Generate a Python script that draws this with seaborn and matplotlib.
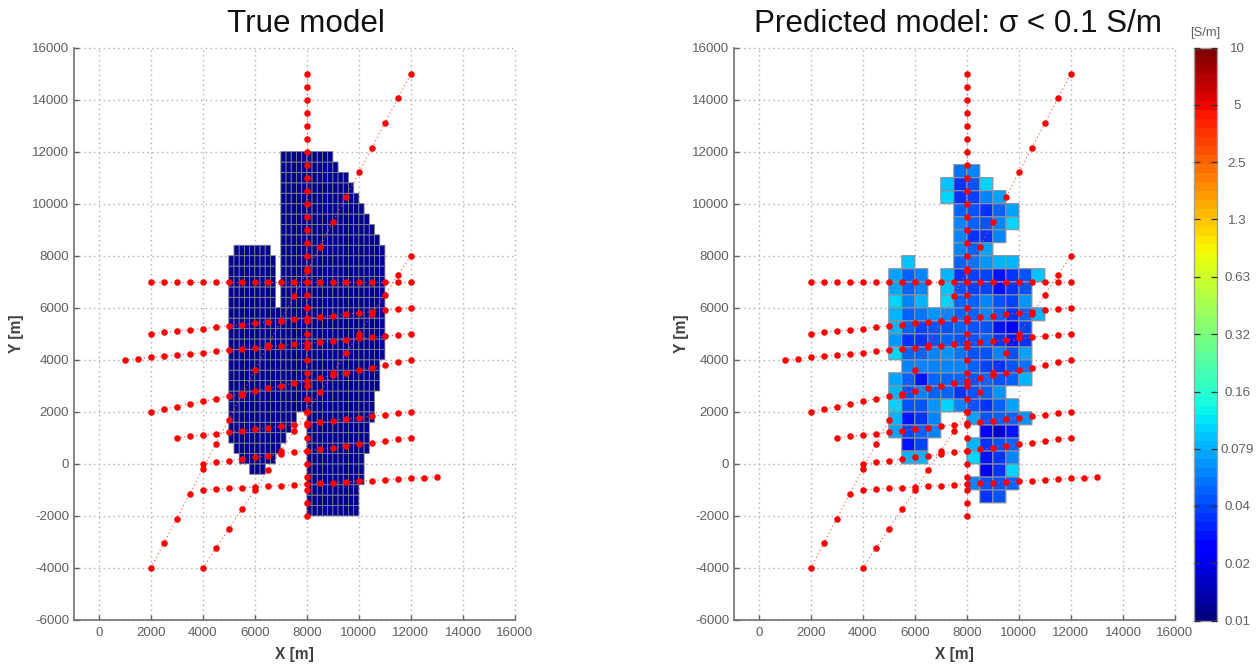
import numpy as np
import pandas as pd
import matplotlib
matplotlib.use("Agg")
import matplotlib.pyplot as plt
from matplotlib.colors import LogNorm
import seaborn as sns

# ---------- data ----------
# survey stations (m)
line_a_x = [2000,2500,3000,3500,4000,4500,5000,5500,6000,6500,7000,7500,8000,8500,9000,9500,10000,10500,11000,11500,12000]
line_a_y = [7000]*21
line_b_x = line_a_x
line_b_y = [5000,5050,5100,5150,5200,5250,5300,5350,5400,5450,5500,5550,5600,5650,5700,5750,5800,5850,5900,5950,6000]
line_c_x = [1000,1500] + line_a_x
line_c_y = [4000,4045,4090,4135,4180,4225,4270,4320,4365,4410,4455,4500,4545,4590,4635,4680,4725,4770,4820,4865,4910,4955,5000]
line_d_x = line_a_x
line_d_y = [2000,2100,2200,2300,2400,2500,2600,2700,2800,2900,3000,3100,3200,3300,3400,3500,3600,3700,3800,3900,4000]
line_e_x = line_a_x[2:]
line_e_y = [1000,1055,1110,1165,1220,1280,1335,1390,1445,1500,1555,1610,1665,1720,1780,1835,1890,1945,2000]
line_f_x = line_a_x[4:]
line_f_y = [0,60,125,190,250,310,375,440,500,560,625,690,750,810,875,940,1000]
line_g_x = line_a_x[4:] + [12500,13000]
line_g_y = [-1000,-970,-945,-915,-890,-860,-835,-805,-780,-750,-720,-695,-665,-640,-610,-585,-555,-530,-500]
line_v_x = [8000]*35
line_v_y = [15000,14500,14000,13500,13000,12500,12000,11500,11000,10500,10000,9500,9000,8500,8000,7500,7000,6500,6000,5500,5000,4500,4000,3500,3000,2500,2000,1500,1000,500,0,-500,-1000,-1500,-2000]
diag_1_x = line_a_x
diag_1_y = [-4000,-3050,-2100,-1150,-200,750,1700,2650,3600,4550,5500,6450,7400,8350,9300,10250,11200,12150,13100,14050,15000]
diag_2_x = line_a_x[4:]
diag_2_y = [-4000,-3250,-2500,-1750,-1000,-250,500,1250,2000,2750,3500,4250,5000,5750,6500,7250,8000]
profiles = [(line_a_x,line_a_y),(line_b_x,line_b_y),(line_c_x,line_c_y),(line_d_x,line_d_y),
            (line_e_x,line_e_y),(line_f_x,line_f_y),(line_g_x,line_g_y),(line_v_x,line_v_y),
            (diag_1_x,diag_1_y),(diag_2_x,diag_2_y)]

# true model: blocks of cells (200 m x 400 m), conductivity in S/m
true_sigma = 0.0115
true_y_top = [12000,11600,11200,10800,10400,10000,9600,9200,8800,8400,8400,8000,8000,6000,4000,2800,2000,2000,1600,1600,1200,1200,800,800,400,400,0,-800]
true_y_bot = [11600,11200,10800,10400,10000,9600,9200,8800,8400,8000,8000,6000,6000,4000,2800,2000,1600,1600,1200,1200,800,800,400,400,0,-800,-400,-2000]
true_x_lft = [7000,7000,7000,7000,7000,7000,7000,7000,7000,7000,5200,5000,7000,5000,5000,5000,5000,8000,5000,8000,5000,8000,5200,8000,5400,8000,5800,8000]
true_x_rgt = [9000,9200,9600,9800,10000,10200,10400,10600,10800,11000,6600,6800,11000,11000,10800,10600,7600,10600,7400,10400,7200,10400,7000,10400,6800,10200,6400,10000]

# predicted model: 500 m cells, conductivity in S/m
_ = np.nan
pred_x = [5000,5500,6000,6500,7000,7500,8000,8500,9000,9500,10000,10500]
pred_y = [11000,10500,10000,9500,9000,8500,8000,7500,7000,6500,6000,5500,5000,4500,4000,3500,3000,2500,2000,1500,1000,500,0,-500,-1000,-1500]
pred_sigma = [
 [_,_,_,_,_,.055,.057,_,_,_,_,_],
 [_,_,_,_,.091,.035,.041,.098,_,_,_,_],
 [_,_,_,_,.101,.033,.037,.061,.075,_,_,_],
 [_,_,_,_,_,.050,.043,.035,.046,.075,_,_],
 [_,_,_,_,_,.057,.046,.043,.061,.104,_,_],
 [_,_,_,_,_,.057,.033,.035,.057,_,_,_],
 [_,_,_,_,_,.057,.050,.075,_,_,_,_],
 [_,.091,_,_,_,.050,.053,.069,.086,.086,_,_],
 [.075,.050,.057,_,.086,.035,.037,.037,.029,.035,.043,.091],
 [.075,.050,.057,_,.091,.043,.037,.037,.029,.035,.041,_],
 [.101,.057,.086,_,.098,.046,.046,.061,.041,.037,.065,_],
 [.086,.046,.053,.065,.057,.050,.050,.057,.046,.035,.046,.086],
 [.086,.046,.037,.043,.041,.046,.043,.041,.029,.024,.037,_],
 [.065,.033,.035,.043,.046,.043,.041,.050,.035,.029,.035,_],
 [.104,.046,.050,.061,.065,.053,.041,.043,.057,.041,.075,_],
 [_,.057,.061,.057,.061,.057,.046,.037,.033,.043,.053,_],
 [.075,.050,.029,.050,.050,.050,.043,.050,.041,.050,.086,_],
 [.086,.043,.057,.050,.046,.035,.043,.050,.065,_,_,_],
 [.101,.041,.043,.065,.098,.061,.043,.033,.050,.075,_,_],
 [.086,.028,.035,.057,_,_,.075,.043,.046,.050,.065,_],
 [.075,.037,.046,.061,_,_,_,.022,.017,.029,_,_],
 [_,.029,.037,_,_,_,.086,.033,.041,.046,_,_],
 [_,.086,.086,_,_,_,.098,.028,.035,.057,_,_],
 [_,_,_,_,_,_,_,.021,.033,.098,_,_],
 [_,_,_,_,_,_,.057,.041,.043,.050,_,_],
 [_,_,_,_,_,_,_,.035,.041,_,_,_],
]

x_ticks = [0,2000,4000,6000,8000,10000,12000,14000,16000]
y_ticks = [-6000,-4000,-2000,0,2000,4000,6000,8000,10000,12000,14000,16000]
cbar_ticks = [0.01,0.02,0.04,0.0794,0.158,0.316,0.631,1.26,2.51,5.01,10]
cbar_labels = ["0.01","0.02","0.04","0.079","0.16","0.32","0.63","1.3","2.5","5","10"]
titles = ["True model", "Predicted model: \u03c3 < 0.1 S/m"]

# ---------- style ----------
sns.set_style("white")
plt.rcParams["font.family"] = ["Liberation Sans", "DejaVu Sans"]
plt.rcParams["axes.unicode_minus"] = False
GREY = "#606060"
W, H = 1260, 665
fig = plt.figure(figsize=(W/100, H/100), dpi=100, facecolor="white")

def new_axes(left, right, top, bottom):
    return fig.add_axes([left/W, (H-bottom)/H, (right-left)/W, (bottom-top)/H])

ax1 = new_axes(74, 515, 47.5, 620)
ax2 = new_axes(734, 1175, 47.5, 620)
cax = new_axes(1193.5, 1217, 47.5, 620.5)

cmap = plt.get_cmap("jet", 64)
norm = LogNorm(vmin=0.01, vmax=10)

# true model cells
xe = np.arange(5000, 11001, 200)
ye = np.arange(-2000, 12001, 400)
tv = np.full((len(ye)-1, len(xe)-1), np.nan)
for t, b, l, r in zip(true_y_top, true_y_bot, true_x_lft, true_x_rgt):
    rows = np.where((ye[:-1] >= b) & (ye[:-1] < t))[0]
    cols = np.where((xe[:-1] >= l) & (xe[:-1] < r))[0]
    tv[np.ix_(rows, cols)] = true_sigma
ax1.pcolor(xe, ye, np.ma.masked_invalid(tv), cmap=cmap, norm=norm,
           edgecolors="#80808f", linewidth=0.6, zorder=2)

# predicted model cells
pxe = np.array(pred_x + [pred_x[-1] + 500])
pye = np.array(pred_y[::-1] + [pred_y[0] + 500])
pv = np.array(pred_sigma)[::-1]
mesh = ax2.pcolor(pxe, pye, np.ma.masked_invalid(pv), cmap=cmap, norm=norm,
                  edgecolors="#8f8f9c", linewidth=0.8, zorder=2)

stations = pd.DataFrame({
    "x": np.concatenate([p[0] for p in profiles]),
    "y": np.concatenate([p[1] for p in profiles]),
})

for ax, title, tx, ylab_pad in zip((ax1, ax2), titles, (0.526, 0.508), (5.5, 2.5)):
    for px_, py_ in profiles:
        sns.lineplot(x=px_, y=py_, ax=ax, color="#ff5050", linestyle=(0, (1, 2.5)),
                     linewidth=0.8, estimator=None, sort=False, legend=False, zorder=3)
    sns.scatterplot(data=stations, x="x", y="y", ax=ax, color="#ff0000", s=22,
                    linewidth=0, legend=False, zorder=4)
    ax.set_xlim(-950, 16000)
    ax.set_ylim(-6000, 16000)
    ax.set_xticks(x_ticks)
    ax.set_yticks(y_ticks)
    ax.tick_params(direction="in", length=3.8, width=1, color=GREY, labelcolor=GREY,
                   labelsize=9.6, bottom=True, left=True)
    ax.tick_params(axis="y", pad=3.5)
    ax.tick_params(axis="x", pad=5)
    ax.grid(True, color="#b0b0b0", linestyle=(0, (1, 2.5)), linewidth=1)
    ax.set_axisbelow(True)
    for g in ax.get_xgridlines() + ax.get_ygridlines():
        g.set_clip_on(False)
    ax.spines["top"].set_visible(False)
    ax.spines["right"].set_visible(False)
    for s in ("left", "bottom"):
        ax.spines[s].set_color("#707070")
        ax.spines[s].set_linewidth(1.2)
    ax.set_xlabel("X [m]", fontsize=11.2, fontweight="bold", color="#404040", labelpad=5.5)
    ax.set_ylabel("Y [m]", fontsize=11.2, fontweight="bold", color="#404040", labelpad=ylab_pad)
    ax.set_title(title, fontsize=22.6, color="#111111", x=tx, pad=11)

cb = fig.colorbar(mesh, cax=cax)
cb.set_ticks(cbar_ticks)
cb.set_ticklabels(cbar_labels)
cb.ax.minorticks_off()
cb.outline.set_edgecolor("#a0a0a0")
cb.outline.set_linewidth(1)
cax.set_axisbelow(False)
cax.tick_params(direction="in", length=4, width=0.9, color="#303030", labelcolor=GREY,
                labelsize=9.6, left=True, right=True, pad=14.5)
for lab in cax.get_yticklabels():
    lab.set_ha("center")
cax.set_title("[S/m]", fontsize=9.3, color=GREY, pad=8)

fig.savefig("out.png", dpi=100, facecolor="white")
